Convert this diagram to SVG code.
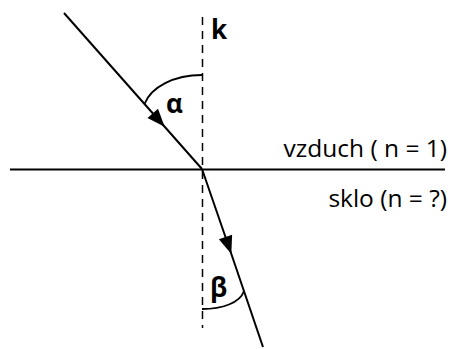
<svg xmlns="http://www.w3.org/2000/svg" width="453" height="349" viewBox="0 0 453 349">
  <style>
    .ln { fill: none; stroke: #000; stroke-width: 2; }
    .dash { fill: none; stroke: #000; stroke-width: 1.5; stroke-dasharray: 8 6; }
    .arc { fill: none; stroke: #000; stroke-width: 1.8; }
    .t { font-family: "Open Sans", "Liberation Sans", sans-serif; font-size: 24.5px; fill: #000; }
    .b { font-weight: bold; font-size: 26px; }
  </style>
  <defs>
    <marker id="ah" markerUnits="userSpaceOnUse" markerWidth="20" markerHeight="20" refX="0" refY="0" orient="auto" overflow="visible">
      <path d="M1,0 L-17,-7 L-17,7 Z" fill="#000"/>
    </marker>
  </defs>
  <rect width="453" height="349" fill="#fff"/>
  <g id="normal">
    <line class="dash" x1="202.5" y1="17" x2="202.5" y2="328"/>
    <text class="t b" x="211" y="39">k</text>
  </g>
  <g id="interface">
    <line class="ln" x1="10" y1="169.5" x2="445" y2="169.5"/>
    <text class="t" x="447" y="157" text-anchor="end">vzduch ( n = 1)</text>
    <text class="t" x="447" y="207" text-anchor="end">sklo (n = ?)</text>
  </g>
  <g id="connectors">
    <path class="ln" d="M64,13 L164,126 L202,169" marker-mid="url(#ah)"/>
    <path class="ln" d="M202,169 L231,253 L263,347" marker-mid="url(#ah)"/>
  </g>
  <g id="angle-alpha">
    <path class="arc" d="M202,75 C174,75 151,87 144.5,104"/>
    <text class="t b" x="166" y="113">α</text>
  </g>
  <g id="angle-beta">
    <path class="arc" d="M202,309 C222,309 240,303 244,291"/>
    <text class="t b" x="210" y="297">β</text>
  </g>
</svg>
